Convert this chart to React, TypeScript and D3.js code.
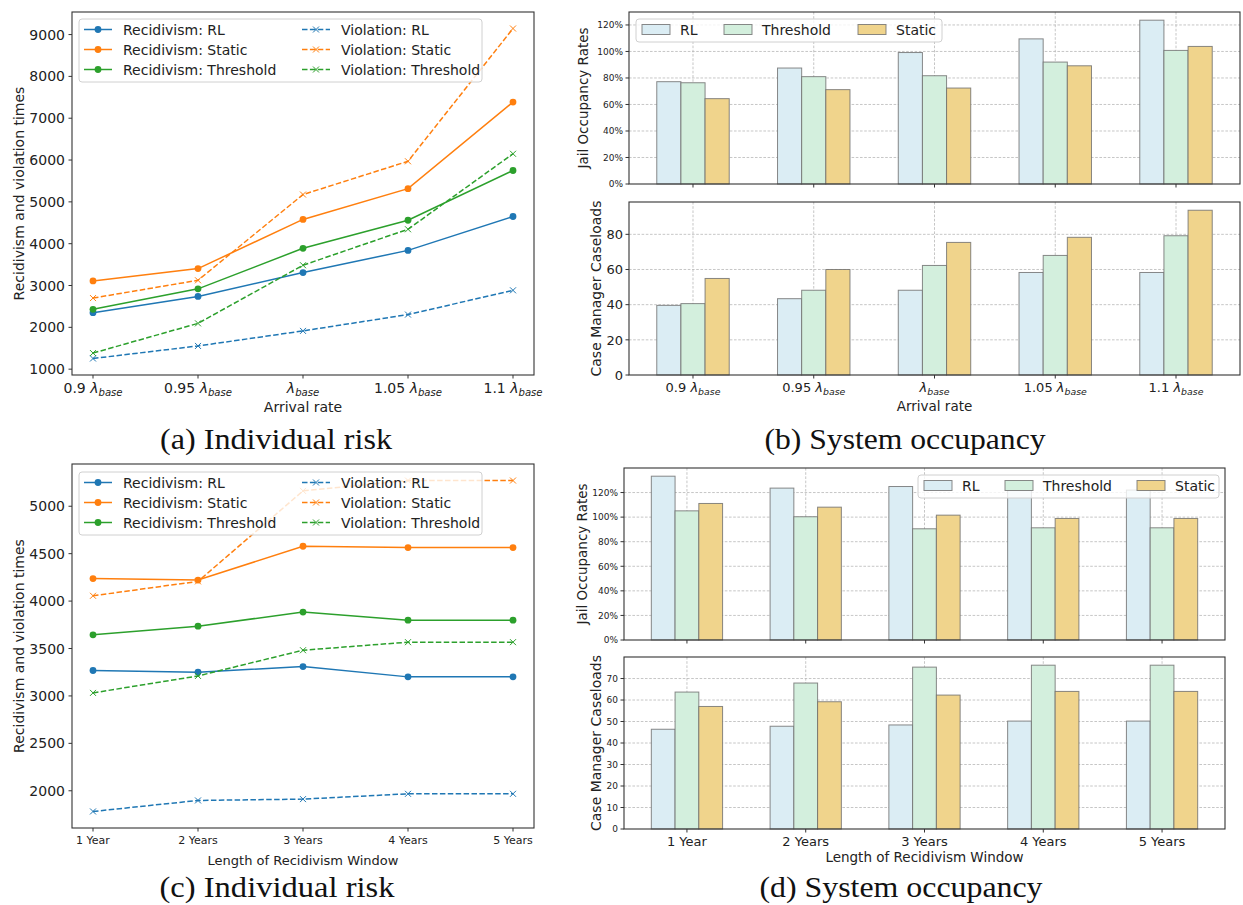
import React from 'react';
import * as d3 from 'd3';

// categories on the x axes
const arrivalMultipliers = ['0.9', '0.95', '', '1.05', '1.1'];
const windowLabels = ['1 Year', '2 Years', '3 Years', '4 Years', '5 Years'];

// (a) recidivism / violation times vs arrival rate
const recRLArrival = [2350, 2740, 3310, 3840, 4650];
const recStaticArrival = [3110, 3405, 4580, 5315, 7385];
const recThresholdArrival = [2430, 2920, 3890, 4560, 5750];
const vioRLArrival = [1255, 1555, 1915, 2305, 2885];
const vioStaticArrival = [2700, 3125, 5175, 5970, 9145];
const vioThresholdArrival = [1385, 2095, 3485, 4345, 6150];

// (b) system occupancy vs arrival rate
const jailRLArrival = [0.772, 0.875, 0.992, 1.095, 1.236];
const jailThresholdArrival = [0.764, 0.81, 0.817, 0.92, 1.008];
const jailStaticArrival = [0.644, 0.712, 0.724, 0.892, 1.038];
const caseRLArrival = [39.6, 43.4, 48.2, 58.3, 58.3];
const caseThresholdArrival = [40.6, 48.2, 62.3, 68.0, 79.2];
const caseStaticArrival = [54.9, 60.0, 75.4, 78.3, 93.7];

// (c) recidivism / violation times vs window length
const recRLWindow = [3268, 3250, 3310, 3201, 3201];
const recStaticWindow = [4237, 4222, 4578, 4564, 4564];
const recThresholdWindow = [3644, 3736, 3884, 3799, 3799];
const vioRLWindow = [1782, 1898, 1912, 1968, 1968];
const vioStaticWindow = [4056, 4208, 5162, 5271, 5271];
const vioThresholdWindow = [3032, 3211, 3482, 3567, 3567];

// (d) system occupancy vs window length
const jailRLWindow = [1.333, 1.236, 1.249, 1.22, 1.22];
const jailThresholdWindow = [1.051, 1.003, 0.905, 0.913, 0.913];
const jailStaticWindow = [1.111, 1.081, 1.016, 0.989, 0.989];
const caseRLWindow = [46.4, 47.8, 48.4, 50.2, 50.2];
const caseThresholdWindow = [63.7, 67.9, 75.3, 76.2, 76.2];
const caseStaticWindow = [57.0, 59.2, 62.3, 64.0, 64.0];

// tick values
const ticksA = [1000, 2000, 3000, 4000, 5000, 6000, 7000, 8000, 9000];
const ticksC = [2000, 2500, 3000, 3500, 4000, 4500, 5000];
const jailTicks = [0, 0.2, 0.4, 0.6, 0.8, 1.0, 1.2];
const caseTicksB = [0, 20, 40, 60, 80];
const caseTicksD = [0, 10, 20, 30, 40, 50, 60, 70];

const FONT = "'DejaVu Sans', sans-serif";
const SPINE = '#333';
const TXT = '#222';
const lineColor = { RL: '#1f77b4', Static: '#ff7f0e', Threshold: '#2ca02c' };
const barColor = { RL: '#dbedf4', Threshold: '#d3efdd', Static: '#f0d48c' };
const barOrder = ['RL', 'Threshold', 'Static'];

type Box = { left: number; right: number; top: number; bottom: number };

function LambdaLabel({ x, y, mult, size }: any) {
  return (
    <text x={x} y={y} textAnchor="middle" fontSize={size} fontFamily={FONT} fill={TXT}>
      {mult ? `${mult} ` : ''}
      <tspan fontStyle="italic">λ</tspan>
      <tspan fontStyle="italic" fontSize={size * 0.72} dy={size * 0.22}>base</tspan>
    </text>
  );
}

function Frame({ box }: { box: Box }) {
  return (
    <rect x={box.left} y={box.top} width={box.right - box.left} height={box.bottom - box.top}
      fill="none" stroke={SPINE} strokeWidth={1.1} />
  );
}

function LinePanel({ box, rec, vio, yTicks, xTick, xLabel, xLabelSize, legendTop, yLabelX }: any) {
  const n = rec[0].values.length;
  const all = [...rec, ...vio].flatMap((s: any) => s.values);
  const [lo, hi] = d3.extent(all) as [number, number];
  const pad = (hi - lo) * 0.05;
  const y = d3.scaleLinear().domain([lo - pad, hi + pad]).range([box.bottom, box.top]);
  const x = d3.scaleLinear().domain([-0.2, n - 1 + 0.2]).range([box.left, box.right]);
  const line = d3.line<number>().x((_, i) => x(i)).y(d => y(d));
  const series = [...rec.map((s: any) => ({ ...s, dashed: false })), ...vio.map((s: any) => ({ ...s, dashed: true }))];

  const marker = (s: any, cx: number, cy: number, key: any) =>
    s.dashed ? (
      <g key={key} stroke={s.color} strokeWidth={1}>
        <line x1={cx - 3} y1={cy - 3} x2={cx + 3} y2={cy + 3} />
        <line x1={cx - 3} y1={cy + 3} x2={cx + 3} y2={cy - 3} />
      </g>
    ) : (
      <circle key={key} cx={cx} cy={cy} r={3.4} fill={s.color} />
    );

  const lg = { left: box.left + 7, right: box.left + 410, top: legendTop, rowH: 20 };
  const cols = [lg.left + 5, lg.left + 223];

  return (
    <g>
      {series.map((s: any) => (
        <g key={s.name}>
          <path d={line(s.values) as string} fill="none" stroke={s.color} strokeWidth={1.5}
            strokeDasharray={s.dashed ? '5.5,2.4' : undefined} />
          {s.values.map((v: number, i: number) => marker(s, x(i), y(v), i))}
        </g>
      ))}
      <Frame box={box} />
      {yTicks.map((t: number) => (
        <g key={t}>
          <line x1={box.left - 3.5} x2={box.left} y1={y(t)} y2={y(t)} stroke={SPINE} />
          <text x={box.left - 7} y={y(t)} dy="0.36em" textAnchor="end" fontSize={14} fontFamily={FONT} fill={TXT}>{t}</text>
        </g>
      ))}
      {d3.range(n).map(i => (
        <g key={i}>
          <line x1={x(i)} x2={x(i)} y1={box.bottom} y2={box.bottom + 3.5} stroke={SPINE} />
          {xTick(x(i), i)}
        </g>
      ))}
      <text x={(box.left + box.right) / 2} y={box.bottom + 37} textAnchor="middle" fontSize={xLabelSize}
        fontFamily={FONT} fill={TXT}>{xLabel}</text>
      <text transform={`translate(${yLabelX},${(box.top + box.bottom) / 2}) rotate(-90)`} dy="0.35em"
        textAnchor="middle" fontSize={14} fontFamily={FONT} fill={TXT}>Recidivism and violation times</text>
      {/* legend */}
      <rect x={lg.left} y={lg.top} width={lg.right - lg.left} height={lg.rowH * 3 + 3} rx={3}
        fill="white" fillOpacity={0.8} stroke="#d0d0d0" strokeWidth={1} />
      {[rec, vio].map((group: any[], c: number) =>
        group.map((s: any, r: number) => {
          const ly = lg.top + 10.5 + r * lg.rowH;
          const lx = cols[c];
          const ser = { ...s, dashed: c === 1 };
          return (
            <g key={s.name}>
              <line x1={lx} x2={lx + 28} y1={ly} y2={ly} stroke={s.color} strokeWidth={1.5}
                strokeDasharray={c === 1 ? '5.5,2.4' : undefined} />
              {marker(ser, lx + 14, ly, 'm')}
              <text x={lx + 39} y={ly} dy="0.36em" fontSize={14} fontFamily={FONT} fill={TXT}>{s.name}</text>
            </g>
          );
        })
      )}
    </g>
  );
}

function BarPanel({ box, values, yTicks, tickFmt, tickSize, yLabel, yLabelX, yLabelSize, xTick, xLabel, xLabelSize, xLabelDy, legend }: any) {
  const n = values.RL.length;
  const maxV = d3.max(barOrder.flatMap(k => values[k])) as number;
  const y = d3.scaleLinear().domain([0, maxV * 1.05]).range([box.bottom, box.top]);
  const x = d3.scaleLinear().domain([-0.53, n - 1 + 0.53]).range([box.left, box.right]);
  const w = x(0.2) - x(0);
  const grid = { stroke: '#b8b8b8', strokeWidth: 0.8, strokeDasharray: '2.6,1.6' };
  return (
    <g>
      {yTicks.filter((t: number) => t > 0).map((t: number) => (
        <line key={t} x1={box.left} x2={box.right} y1={y(t)} y2={y(t)} {...grid} />
      ))}
      {d3.range(n).map(i => (
        <line key={i} x1={x(i)} x2={x(i)} y1={box.top} y2={box.bottom} {...grid} />
      ))}
      {barOrder.map((k, j) =>
        values[k].map((v: number, i: number) => (
          <rect key={k + i} x={x(i + (j - 1) * 0.2) - w / 2} y={y(v)} width={w} height={y(0) - y(v)}
            fill={(barColor as any)[k]} stroke="#6b6b6b" strokeOpacity={0.8} strokeWidth={1} />
        ))
      )}
      <Frame box={box} />
      {yTicks.map((t: number) => (
        <g key={t}>
          <line x1={box.left - 3.5} x2={box.left} y1={y(t)} y2={y(t)} stroke={SPINE} />
          <text x={box.left - 6} y={y(t)} dy="0.36em" textAnchor="end" fontSize={tickSize} fontFamily={FONT} fill={TXT}>{tickFmt(t)}</text>
        </g>
      ))}
      {d3.range(n).map(i => (
        <g key={i}>
          <line x1={x(i)} x2={x(i)} y1={box.bottom} y2={box.bottom + 3.5} stroke={SPINE} />
          {xTick ? xTick(x(i), i) : null}
        </g>
      ))}
      {xLabel ? (
        <text x={(box.left + box.right) / 2} y={box.bottom + xLabelDy} textAnchor="middle" fontSize={xLabelSize}
          fontFamily={FONT} fill={TXT}>{xLabel}</text>
      ) : null}
      <text transform={`translate(${yLabelX},${(box.top + box.bottom) / 2}) rotate(-90)`} dy="0.35em"
        textAnchor="middle" fontSize={yLabelSize} fontFamily={FONT} fill={TXT}>{yLabel}</text>
      {legend ? (
        <g>
          <rect x={legend.left} y={legend.top} width={legend.width} height={23} rx={3}
            fill="white" fillOpacity={0.8} stroke="#d0d0d0" />
          {barOrder.map((k, j) => (
            <g key={k}>
              <rect x={legend.patches[j]} y={legend.top + 5.5} width={28} height={10}
                fill={(barColor as any)[k]} stroke="#6b6b6b" strokeOpacity={0.8} />
              <text x={legend.patches[j] + 38} y={legend.top + 10.5} dy="0.36em" fontSize={14}
                fontFamily={FONT} fill={TXT}>{k}</text>
            </g>
          ))}
        </g>
      ) : null}
    </g>
  );
}

const pct = (t: number) => `${Math.round(t * 100)}%`;
const plain = (t: number) => `${t}`;

function Caption({ x, y, text, width }: any) {
  return (
    <text x={x} y={y} textAnchor="middle" fontSize={29} fontFamily="'Liberation Serif', serif" fill="#111"
      textLength={width} lengthAdjust="spacingAndGlyphs">{text}</text>
  );
}

export default function App() {
  const boxA = { left: 72, right: 534, top: 12, bottom: 375 };
  const boxC = { left: 72, right: 534, top: 464, bottom: 828 };
  const boxB1 = { left: 629, right: 1240, top: 12, bottom: 184 };
  const boxB2 = { left: 629, right: 1240, top: 202, bottom: 375 };
  const boxD1 = { left: 624, right: 1225, top: 468, bottom: 640 };
  const boxD2 = { left: 624, right: 1225, top: 657, bottom: 829 };

  const recA = [
    { name: 'Recidivism: RL', values: recRLArrival, color: lineColor.RL },
    { name: 'Recidivism: Static', values: recStaticArrival, color: lineColor.Static },
    { name: 'Recidivism: Threshold', values: recThresholdArrival, color: lineColor.Threshold },
  ];
  const vioA = [
    { name: 'Violation: RL', values: vioRLArrival, color: lineColor.RL },
    { name: 'Violation: Static', values: vioStaticArrival, color: lineColor.Static },
    { name: 'Violation: Threshold', values: vioThresholdArrival, color: lineColor.Threshold },
  ];
  const recC = [
    { name: 'Recidivism: RL', values: recRLWindow, color: lineColor.RL },
    { name: 'Recidivism: Static', values: recStaticWindow, color: lineColor.Static },
    { name: 'Recidivism: Threshold', values: recThresholdWindow, color: lineColor.Threshold },
  ];
  const vioC = [
    { name: 'Violation: RL', values: vioRLWindow, color: lineColor.RL },
    { name: 'Violation: Static', values: vioStaticWindow, color: lineColor.Static },
    { name: 'Violation: Threshold', values: vioThresholdWindow, color: lineColor.Threshold },
  ];

  const arrivalTick = (size: number, dy: number, bottom: number) => (x: number, i: number) => (
    <LambdaLabel key={i} x={x} y={bottom + dy} mult={arrivalMultipliers[i]} size={size} />
  );
  const windowTick = (size: number, dy: number, bottom: number) => (x: number, i: number) => (
    <text key={i} x={x} y={bottom + dy} textAnchor="middle" fontSize={size} fontFamily={FONT} fill={TXT}>
      {windowLabels[i]}
    </text>
  );

  return (
    <svg width={1243} height={905} style={{ position: 'absolute', left: 0, top: 0, background: 'white' }}>
      <LinePanel box={boxA} rec={recA} vio={vioA} yTicks={ticksA}
        xTick={arrivalTick(14, 18, boxA.bottom)} xLabel="Arrival rate" xLabelSize={14}
        legendTop={19} yLabelX={19} />
      <LinePanel box={boxC} rec={recC} vio={vioC} yTicks={ticksC}
        xTick={windowTick(11, 16, boxC.bottom)} xLabel="Length of Recidivism Window" xLabelSize={13}
        legendTop={472} yLabelX={19} />

      <BarPanel box={boxB1} values={{ RL: jailRLArrival, Threshold: jailThresholdArrival, Static: jailStaticArrival }}
        yTicks={jailTicks} tickFmt={pct} tickSize={9} yLabel="Jail Occupancy Rates" yLabelX={583} yLabelSize={13.5}
        legend={{ left: 636, top: 19, width: 306, patches: [642, 724, 858] }} />
      <BarPanel box={boxB2} values={{ RL: caseRLArrival, Threshold: caseThresholdArrival, Static: caseStaticArrival }}
        yTicks={caseTicksB} tickFmt={plain} tickSize={13} yLabel="Case Manager Caseloads" yLabelX={596} yLabelSize={14}
        xTick={arrivalTick(13, 17, boxB2.bottom)} xLabel="Arrival rate" xLabelSize={13.5} xLabelDy={36} />

      <BarPanel box={boxD1} values={{ RL: jailRLWindow, Threshold: jailThresholdWindow, Static: jailStaticWindow }}
        yTicks={jailTicks} tickFmt={pct} tickSize={9} yLabel="Jail Occupancy Rates" yLabelX={582} yLabelSize={13.5}
        legend={{ left: 918, top: 475, width: 301, patches: [924, 1005, 1137] }} />
      <BarPanel box={boxD2} values={{ RL: caseRLWindow, Threshold: caseThresholdWindow, Static: caseStaticWindow }}
        yTicks={caseTicksD} tickFmt={plain} tickSize={9} yLabel="Case Manager Caseloads" yLabelX={596} yLabelSize={14}
        xTick={windowTick(13, 17, boxD2.bottom)} xLabel="Length of Recidivism Window" xLabelSize={13.5} xLabelDy={33} />

      <Caption x={276} y={449} text="(a) Individual risk" width={232} />
      <Caption x={905} y={449} text="(b) System occupancy" width={281} />
      <Caption x={277} y={897} text="(c) Individual risk" width={235} />
      <Caption x={901} y={897} text="(d) System occupancy" width={283} />
    </svg>
  );
}
